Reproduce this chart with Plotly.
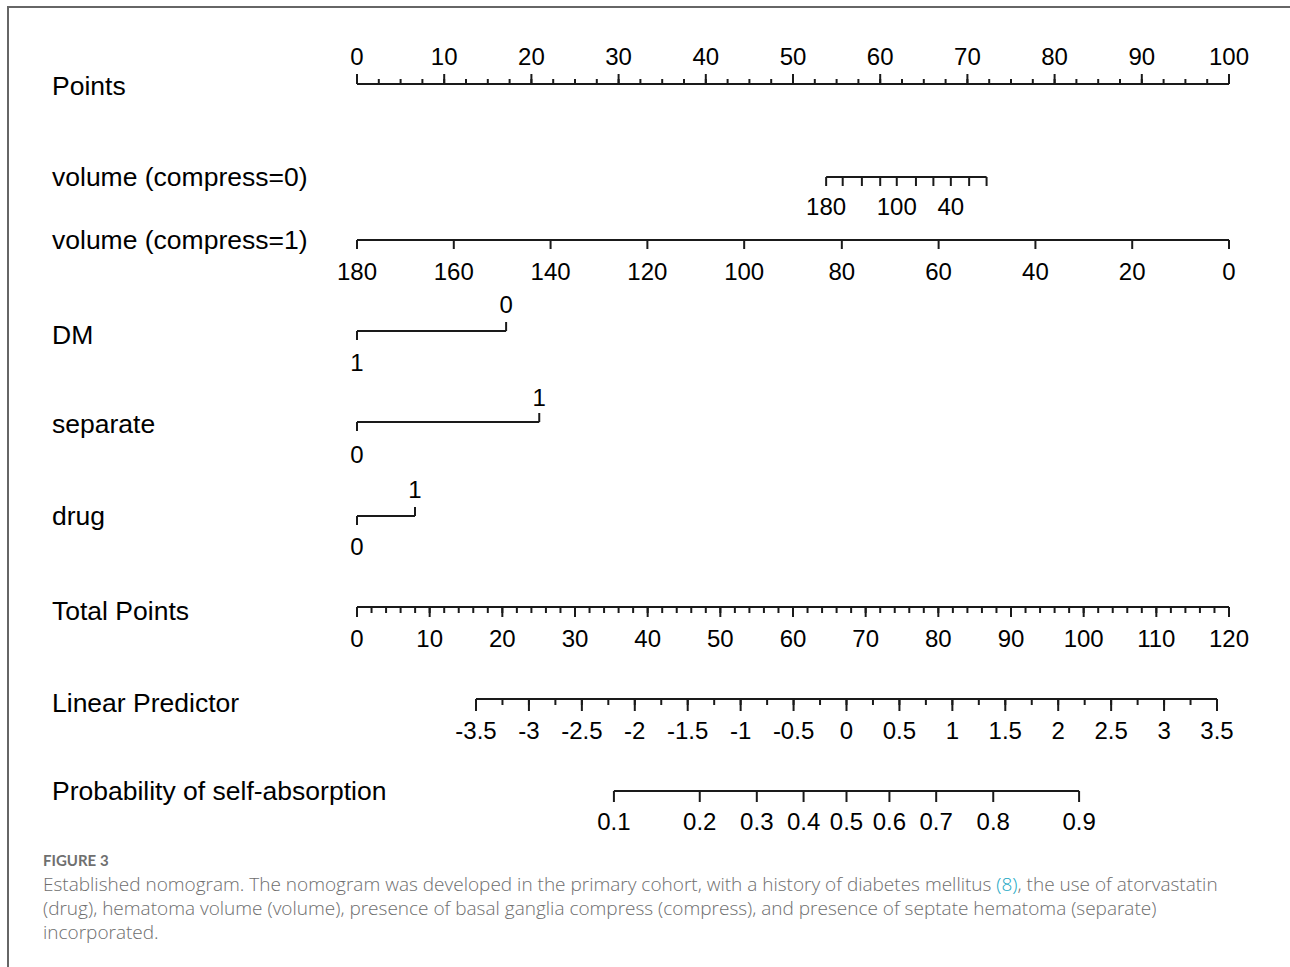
import math
import plotly.graph_objects as go

# ---------------- data ----------------
points_labels = [0, 10, 20, 30, 40, 50, 60, 70, 80, 90, 100]
points_minor = [i * 2.5 for i in range(41)]

vol0_values = [180, 160, 140, 120, 100, 80, 60, 40, 20, 0]
vol0_points = [53.8, 55.7, 57.9, 60.0, 61.9, 64.1, 66.1, 68.1, 70.2, 72.2]
vol0_shown = [180, 100, 40]

vol1_values = [180, 160, 140, 120, 100, 80, 60, 40, 20, 0]
vol1_points = [0, 11.1, 22.2, 33.3, 44.4, 55.6, 66.7, 77.8, 88.9, 100]

dm_values = ["1", "0"]
dm_points = [0, 17.1]
separate_values = ["0", "1"]
separate_points = [0, 20.9]
drug_values = ["0", "1"]
drug_points = [0, 6.65]

total_labels = [0, 10, 20, 30, 40, 50, 60, 70, 80, 90, 100, 110, 120]
total_minor = list(range(0, 121, 2))

lp_labels = [-3.5, -3, -2.5, -2, -1.5, -1, -0.5, 0, 0.5, 1, 1.5, 2, 2.5, 3, 3.5]
lp_minor = [-3.5 + 0.25 * i for i in range(29)]

prob_values = [0.1, 0.2, 0.3, 0.4, 0.5, 0.6, 0.7, 0.8, 0.9]

row_names = ["Points", "volume (compress=0)", "volume (compress=1)", "DM", "separate",
             "drug", "Total Points", "Linear Predictor", "Probability of self-absorption"]

# ---------------- layout constants ----------------
W, H = 1290, 967
PX0 = 357          # pixel of 0 points
PX_PER_PT = 8.72
PX_PER_TP = (1229 - 357) / 120.0
LP_MIN_PX, LP_MAX_PX = 476, 1217
PX_PER_LP = (LP_MAX_PX - LP_MIN_PX) / 7.0

x1_range = [-PX0 / PX_PER_PT, (W - PX0) / PX_PER_PT]
x2_range = [-PX0 / PX_PER_TP, (W - PX0) / PX_PER_TP]
x3_range = [-3.5 - LP_MIN_PX / PX_PER_LP, 3.5 + (W - LP_MAX_PX) / PX_PER_LP]

LINE_C = "#1a1a1a"
LW = 2
FONT = "Liberation Sans, Arial, sans-serif"
TICK_FS = 24
ROW_FS = 26.5
DY = 2  # label offset

fig = go.Figure()


def seg_trace(xs, y0, y1, xaxis="x"):
    X, Y = [], []
    for v in xs:
        X += [v, v, None]
        Y += [y0, y1, None]
    fig.add_trace(go.Scatter(x=X, y=Y, mode="lines", xaxis=xaxis,
                             line=dict(color=LINE_C, width=LW),
                             hoverinfo="skip", showlegend=False))


def hline(x0, x1, y, xaxis="x"):
    fig.add_trace(go.Scatter(x=[x0, x1], y=[y, y], mode="lines", xaxis=xaxis,
                             line=dict(color=LINE_C, width=LW),
                             hoverinfo="skip", showlegend=False))


def labels(xs, texts, y, xaxis="x"):
    fig.add_trace(go.Scatter(x=xs, y=[y + DY] * len(xs), mode="text", text=texts,
                             xaxis=xaxis, textposition="middle center",
                             textfont=dict(family=FONT, size=TICK_FS, color="#000"),
                             hoverinfo="skip", showlegend=False))


def fmt(v):
    return "%g" % v


# Points
y = 84
hline(points_minor[0], points_minor[-1], y)
seg_trace(points_minor, y, y - 5)
seg_trace(points_labels, y, y - 10)
labels(points_labels, [fmt(v) for v in points_labels], 57)

# volume compress=0
y = 177
hline(vol0_points[0], vol0_points[-1], y)
seg_trace(vol0_points, y, y + 9)
labels([p for v, p in zip(vol0_values, vol0_points) if v in vol0_shown],
       [str(v) for v in vol0_values if v in vol0_shown], 207)

# volume compress=1
y = 240
hline(vol1_points[0], vol1_points[-1], y)
seg_trace(vol1_points, y, y + 9)
labels(vol1_points, [str(v) for v in vol1_values], 272)


def binary(points, vals, y, lab_up, lab_dn):
    hline(points[0], points[1], y)
    seg_trace([points[0]], y, y + 9)
    seg_trace([points[1]], y, y - 9)
    labels([points[0]], [vals[0]], lab_dn)
    labels([points[1]], [vals[1]], lab_up)


binary(dm_points, dm_values, 331, 305, 363)
binary(separate_points, separate_values, 422, 398, 455)
binary(drug_points, drug_values, 516, 490, 547)

# Total points
y = 607
hline(0, 120, y, "x2")
seg_trace(total_minor, y, y + 6, "x2")
seg_trace(total_labels, y, y + 10, "x2")
labels(total_labels, [fmt(v) for v in total_labels], 639, "x2")

# Linear predictor
y = 699
hline(-3.5, 3.5, y, "x3")
seg_trace(lp_minor, y, y + 6, "x3")
seg_trace(lp_labels, y, y + 12, "x3")
labels(lp_labels, [fmt(v) for v in lp_labels], 731, "x3")

# Probability (on the linear predictor scale through the logit)
prob_lp = [math.log(p / (1 - p)) for p in prob_values]
y = 791
hline(prob_lp[0], prob_lp[-1], y, "x3")
seg_trace(prob_lp, y, y + 11, "x3")
labels(prob_lp, [fmt(v) for v in prob_values], 822, "x3")

# Row names
row_y = [86, 177, 240, 335, 424, 516, 611, 703, 791]
for name, ry in zip(row_names, row_y):
    fig.add_annotation(x=50 / W, y=ry, xref="paper", yref="y",
                       text=name, showarrow=False, xanchor="left", yanchor="middle",
                       font=dict(family=FONT, size=ROW_FS, color="#000"))

# Caption
CAP_FONT = "Open Sans, Lato, sans-serif"
fig.add_annotation(x=41 / W, y=860, xref="paper", yref="y", text="<b>FIGURE 3</b>",
                   showarrow=False, xanchor="left", yanchor="middle",
                   font=dict(family="Lato, sans-serif", size=15, color="#6f6f6f"))
cap_lines = [
    "Established nomogram. The nomogram was developed in the primary cohort, with a history of diabetes mellitus "
    "<span style='color:#1aa7c4'>(8)</span>, the use of atorvastatin",
    "(drug), hematoma volume (volume), presence of basal ganglia compress (compress), and presence of septate hematoma (separate)",
    "incorporated.",
]
for i, t in enumerate(cap_lines):
    fig.add_annotation(x=41 / W, y=884 + 24 * i, xref="paper", yref="y", text=t,
                       showarrow=False, xanchor="left", yanchor="middle",
                       font=dict(family=CAP_FONT, size=19, color="#6e6e6e", weight=300))

# Frame
fig.add_shape(type="line", xref="paper", yref="paper", x0=7 / W, x1=1, y0=1 - 7 / H, y1=1 - 7 / H,
              line=dict(color="#666", width=2))
fig.add_shape(type="line", xref="paper", yref="paper", x0=8 / W, x1=8 / W, y0=1 - 7 / H, y1=0,
              line=dict(color="#666", width=2))

fig.update_layout(
    width=W, height=H, margin=dict(l=0, r=0, t=0, b=0),
    paper_bgcolor="white", plot_bgcolor="white",
    xaxis=dict(range=x1_range, visible=False, fixedrange=True),
    xaxis2=dict(range=x2_range, visible=False, overlaying="x", fixedrange=True),
    xaxis3=dict(range=x3_range, visible=False, overlaying="x", fixedrange=True),
    yaxis=dict(range=[H, 0], visible=False, fixedrange=True),
    showlegend=False,
)

fig.write_html("out.html", config={"displayModeBar": False},
               post_script="document.body.style.margin='0px';document.body.style.overflow='hidden';")
